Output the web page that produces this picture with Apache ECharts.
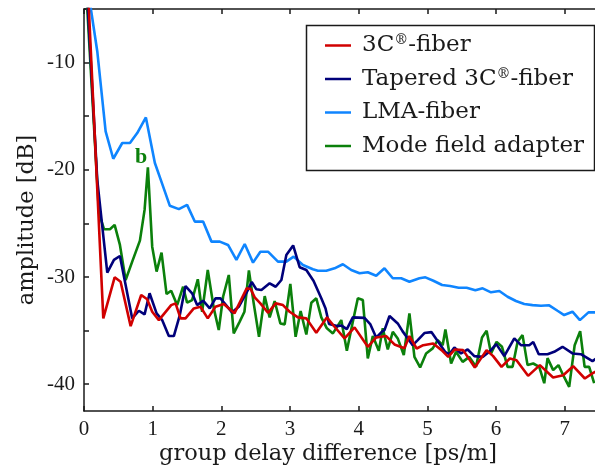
<!DOCTYPE html>
<html><head><meta charset="utf-8">
<script src="https://cdn.jsdelivr.net/npm/echarts@6/dist/echarts.min.js"></script>
<style>html,body{margin:0;padding:0;background:#fff}#c{width:595px;height:472px}</style>
</head><body><div id="c"></div>
<script>
const seriesNames = ['3C®-fiber', 'Tapered 3C®-fiber', 'LMA-fiber', 'Mode field adapter'];
const xTickValues = [0, 1, 2, 3, 4, 5, 6, 7];
const yTickValues = [-40, -35, -30, -25, -20, -15, -10, -5];
const yLabelValues = [-40, -30, -20, -10];
const xTitle = 'group delay difference [ps/m]';
const yTitle = 'amplitude [dB]';
const annotation = 'b';

const redX = [0.06,0.281,0.446,0.533,0.679,0.833,0.920,0.993,1.090,1.269,1.333,1.406,1.478,1.599,1.696,1.802,1.914,2.035,2.190,2.369,2.427,2.485,2.568,2.679,2.791,2.897,2.994,3.115,3.237,3.382,3.536,3.648,3.794,3.939,4.132,4.254,4.400,4.520,4.665,4.738,4.843,4.939,5.084,5.206,5.303,5.400,5.520,5.690,5.861,5.957,6.079,6.200,6.297,6.466,6.637,6.830,6.977,7.122,7.292,7.413,7.46];
const redY = [-3.5,-33.86,-30.03,-30.44,-34.58,-31.68,-32.08,-33.24,-34.02,-32.62,-32.46,-33.86,-33.86,-32.93,-32.78,-33.86,-32.78,-32.52,-33.39,-31.06,-31.12,-31.90,-32.46,-33.34,-32.46,-32.62,-33.24,-33.77,-33.86,-35.21,-33.77,-34.64,-35.73,-34.70,-36.51,-35.64,-35.51,-36.29,-36.64,-35.51,-36.67,-36.36,-36.20,-36.82,-37.45,-36.76,-36.82,-38.44,-36.82,-37.38,-38.38,-37.60,-37.76,-39.22,-38.22,-39.37,-39.16,-38.32,-39.47,-38.94,-38.8];

const navyX = [0.04,0.193,0.339,0.436,0.523,0.702,0.799,0.882,0.955,1.057,1.138,1.235,1.308,1.395,1.478,1.574,1.647,1.734,1.831,1.914,1.987,2.155,2.253,2.374,2.442,2.510,2.583,2.703,2.791,2.874,2.946,3.045,3.140,3.237,3.343,3.455,3.517,3.568,3.685,3.750,3.827,3.914,4.084,4.167,4.254,4.339,4.375,4.448,4.568,4.637,4.714,4.786,4.859,4.956,5.058,5.174,5.262,5.320,5.392,5.490,5.586,5.683,5.804,5.901,6.003,6.119,6.265,6.362,6.483,6.541,6.621,6.749,6.846,6.967,7.112,7.234,7.403,7.46];
const navyY = [-3.0,-20.93,-29.60,-28.41,-28.04,-33.86,-33.15,-33.49,-31.52,-33.39,-34.02,-35.51,-35.51,-33.55,-30.84,-31.52,-32.62,-32.21,-32.93,-31.99,-31.99,-33.30,-32.78,-31.37,-30.47,-31.15,-31.21,-30.59,-30.91,-30.28,-27.94,-27.06,-29.09,-29.35,-30.37,-31.99,-32.93,-34.39,-34.58,-34.53,-34.86,-33.77,-33.81,-34.39,-35.65,-35.09,-34.95,-33.64,-34.33,-35.05,-35.73,-36.36,-35.89,-35.23,-35.14,-36.20,-37.01,-37.20,-36.57,-37.13,-36.76,-37.38,-37.45,-36.98,-36.26,-37.38,-35.73,-36.36,-36.36,-36.07,-37.20,-37.20,-36.98,-36.51,-37.13,-37.20,-37.85,-37.6];

const blueX = [0.065,0.193,0.315,0.426,0.557,0.669,0.775,0.901,1.032,1.141,1.250,1.381,1.501,1.613,1.734,1.856,1.977,2.097,2.219,2.340,2.461,2.568,2.679,2.824,2.946,3.052,3.188,3.333,3.405,3.528,3.648,3.769,3.891,4.012,4.132,4.254,4.375,4.496,4.618,4.738,4.884,4.971,5.087,5.214,5.330,5.455,5.571,5.698,5.804,5.926,6.047,6.167,6.289,6.410,6.531,6.653,6.773,6.894,6.991,7.112,7.220,7.345,7.46];
const blueY = [-3.5,-8.94,-16.42,-18.97,-17.50,-17.50,-16.57,-15.11,-19.37,-21.36,-23.36,-23.67,-23.27,-24.83,-24.83,-26.70,-26.70,-27.01,-28.41,-26.92,-28.66,-27.64,-27.64,-28.57,-28.57,-28.10,-28.88,-29.28,-29.41,-29.41,-29.19,-28.81,-29.35,-29.65,-29.56,-29.88,-29.19,-30.12,-30.12,-30.44,-30.12,-30.03,-30.35,-30.75,-30.84,-31.00,-31.00,-31.24,-31.06,-31.43,-31.31,-31.84,-32.24,-32.52,-32.62,-32.68,-32.64,-33.15,-33.55,-33.24,-34.02,-33.30,-33.30];

const greenX = [0.030,0.218,0.291,0.378,0.446,0.523,0.606,0.702,0.814,0.882,0.930,0.993,1.057,1.129,1.202,1.269,1.356,1.443,1.501,1.574,1.657,1.720,1.802,1.890,1.962,2.025,2.108,2.180,2.267,2.336,2.401,2.471,2.548,2.631,2.703,2.776,2.859,2.922,3.004,3.081,3.154,3.237,3.310,3.382,3.455,3.536,3.624,3.746,3.827,3.914,3.987,4.060,4.132,4.205,4.292,4.350,4.423,4.496,4.568,4.656,4.738,4.811,4.894,4.981,5.077,5.150,5.222,5.262,5.345,5.417,5.513,5.610,5.708,5.795,5.862,5.926,6.007,6.086,6.167,6.240,6.313,6.385,6.458,6.541,6.628,6.701,6.749,6.831,6.908,6.977,7.064,7.144,7.224,7.289,7.355,7.428];
const greenY = [-3.00,-24.05,-25.54,-25.54,-25.14,-27.01,-30.28,-28.57,-26.61,-23.74,-19.77,-27.17,-29.50,-27.73,-31.59,-31.28,-32.62,-30.91,-32.40,-32.15,-30.21,-33.24,-29.35,-32.93,-34.95,-31.84,-29.81,-35.26,-34.16,-33.24,-29.39,-32.46,-35.58,-31.78,-33.77,-32.24,-34.33,-34.42,-30.65,-35.58,-33.18,-35.36,-32.40,-31.99,-33.77,-34.79,-35.26,-34.02,-36.89,-34.18,-31.99,-32.15,-37.60,-35.51,-36.89,-34.79,-36.76,-35.11,-35.73,-37.29,-33.39,-37.45,-38.44,-37.13,-36.66,-35.89,-36.36,-34.89,-38.07,-36.98,-37.92,-37.45,-38.38,-35.64,-35.02,-37.13,-36.05,-36.51,-38.38,-38.38,-36.05,-35.42,-38.22,-38.07,-38.38,-39.91,-37.57,-38.69,-38.22,-39.16,-40.25,-36.36,-35.05,-38.38,-38.38,-39.91];

const colors = ['#d10000', '#00007a', '#0f85ff', '#0b800b'];
function zip(xs, ys) { return xs.map((x, i) => [x, ys[i]]); }

const FONT = 'Liberation Serif';
const TFONT = 'DejaVu Serif';
const chart = echarts.init(document.getElementById('c'));
const axisLineStyle = { color: '#1a1a1a', width: 1.5 };

function mkSeries(i, xs, ys, z) {
  return {
    name: seriesNames[i], type: 'line', data: zip(xs, ys), symbol: 'none',
    lineStyle: { color: colors[i], width: 2.6 }, itemStyle: { color: colors[i] },
    z: z, animation: false, clip: true
  };
}

chart.setOption({
  animation: false,
  backgroundColor: '#fff',
  grid: { left: 84, top: 9, right: 0, bottom: 61, containLabel: false },
  xAxis: [{
    type: 'value', min: 0, max: 7.44, position: 'bottom',
    axisLine: { show: true, lineStyle: axisLineStyle },
    axisTick: { show: true, inside: true, length: 5, customValues: xTickValues, lineStyle: axisLineStyle },
    axisLabel: { customValues: xTickValues, fontFamily: FONT, fontSize: 21, color: '#1a1a1a', margin: 8 },
    splitLine: { show: false }
  }, {
    type: 'value', min: 0, max: 7.44, position: 'top',
    axisLine: { show: true, lineStyle: axisLineStyle },
    axisTick: { show: true, inside: true, length: 5, customValues: xTickValues, lineStyle: axisLineStyle },
    axisLabel: { show: false }, splitLine: { show: false }
  }],
  yAxis: {
    type: 'value', min: -42.5, max: -5,
    axisLine: { show: true, lineStyle: axisLineStyle },
    axisTick: { show: true, inside: true, length: 5, customValues: yTickValues, lineStyle: axisLineStyle },
    axisLabel: { customValues: yLabelValues, fontFamily: FONT, fontSize: 21, color: '#1a1a1a', margin: 9 },
    splitLine: { show: false }
  },
  legend: {
    data: seriesNames.map(n => ({ name: n, icon: 'rect' })), orient: 'vertical', left: 325, top: 33.5, padding: 0,
    itemWidth: 26, itemHeight: 2.5, itemGap: 9.5, z: 10,
    formatter: n => n.replace('®', '{sup|®}'),
    textStyle: {
      fontFamily: TFONT, fontSize: 23, color: '#1a1a1a', lineHeight: 24, padding: [0, 0, 0, 6],
      rich: { sup: { fontFamily: TFONT, fontSize: 14, lineHeight: 14, verticalAlign: 'top', color: '#1a1a1a' } }
    }
  },
  graphic: [
    { type: 'rect', z: 8, shape: { x: 306.5, y: 25.5, width: 288, height: 145 },
      style: { fill: '#fff', stroke: '#1a1a1a', lineWidth: 1.5 } },
    { type: 'text', x: 328, y: 454, z: 10,
      style: { text: xTitle, fontFamily: TFONT, fontSize: 22.5, fill: '#1a1a1a', align: 'center', verticalAlign: 'middle' } },
    { type: 'text', x: 27, y: 220, rotation: Math.PI / 2, z: 10,
      style: { text: yTitle, fontFamily: TFONT, fontSize: 22.5, fill: '#1a1a1a', align: 'center', verticalAlign: 'middle' } }
  ],
  series: [
    mkSeries(2, blueX, blueY, 2),
    mkSeries(3, greenX, greenY, 3),
    mkSeries(1, navyX, navyY, 4),
    mkSeries(0, redX, redY, 5)
  ]
});

const p = chart.convertToPixel({ xAxisIndex: 0, yAxisIndex: 0 }, [0.83, -18.8]);
chart.setOption({ graphic: [{}, {}, {}, { type: 'text', x: p[0], y: p[1], z: 10,
  style: { text: annotation, fontFamily: FONT, fontWeight: 'bold', fontSize: 22, fill: colors[3], align: 'center', verticalAlign: 'middle' } }] });
</script></body></html>
